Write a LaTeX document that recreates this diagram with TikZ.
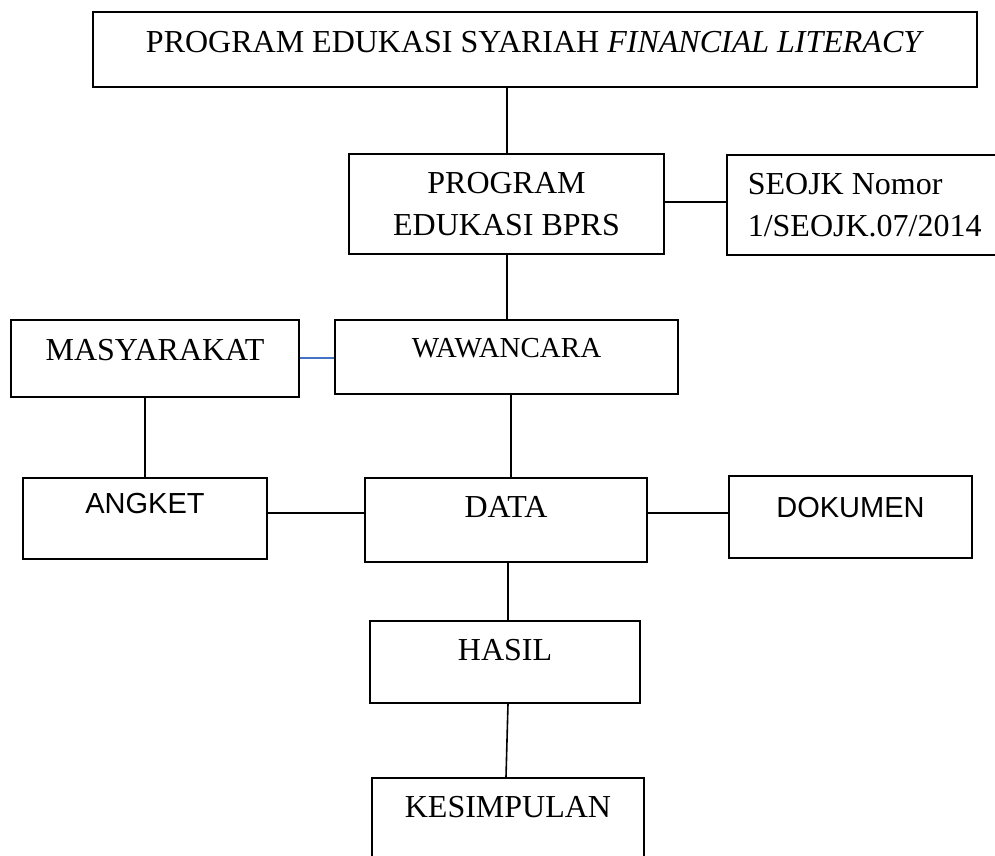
\documentclass[tikz,border=0pt]{standalone}
\usepackage{fontspec}
\setmainfont{Liberation Serif}
\newfontfamily\sansf{Liberation Sans}
\definecolor{lnblue}{RGB}{68,114,196}
\begin{document}
\begin{tikzpicture}[x=1pt,y=-1pt,
  box/.style={draw, line width=1.6pt, inner sep=0pt, anchor=north},
  ser/.style={font=\fontsize{32}{42}\selectfont},
  serw/.style={font=\fontsize{29}{38}\selectfont},
  sans/.style={font=\sansf\fontsize{29}{38}\selectfont},
  con/.style={line width=1.6pt}]
\useasboundingbox (0,0) rectangle (995,855);
% boxes
\node[box, ser, minimum width=884pt, text height=41pt, text depth=34pt] (top) at (535,11)
  {PROGRAM EDUKASI SYARIAH \textit{FINANCIAL LITERACY}};
\node[box, ser, anchor=center, minimum width=315pt, minimum height=100pt, align=center] (bprs) at (506.5,204)
  {PROGRAM\\EDUKASI BPRS};
\node[box, ser, anchor=north west, minimum height=100pt, text width=262pt, inner xsep=21pt, align=flush left] (seojk) at (726,154)
  {SEOJK Nomor\\1/SEOJK.07/2014};
\node[box, ser, minimum width=288pt, text height=41pt, text depth=36pt] (masy) at (155,319) {MASYARAKAT};
\node[box, serw, minimum width=343pt, text height=38pt, text depth=36pt] (waw) at (506.5,319) {WAWANCARA};
\node[box, sans, minimum width=244pt, text height=36pt, text depth=45pt] (angket) at (145,477) {ANGKET};
\node[box, ser, minimum width=282pt, text height=40pt, text depth=44pt] (data) at (506,477) {DATA};
\node[box, sans, minimum width=243pt, text height=42pt, text depth=40pt] (dok) at (850.5,475) {DOKUMEN};
\node[box, ser, minimum width=270pt, text height=40pt, text depth=42pt] (hasil) at (505,620) {HASIL};
\node[box, ser, minimum width=272pt, text height=40pt, text depth=63pt] (kes) at (508,777) {KESIMPULAN};
% helper coordinates
\coordinate (x507) at (507,0);
\coordinate (x511) at (511,0);
\coordinate (x508) at (508,0);
\coordinate (x506) at (506,0);
\coordinate (x145) at (145,0);
\coordinate (y202) at (0,202);
\coordinate (y358) at (0,358);
\coordinate (y513) at (0,513);
% connectors
\draw[con] (top.south -| x507) -- (bprs.north -| x507);
\draw[con] (bprs.east |- y202) -- (seojk.west |- y202);
\draw[con] (bprs.south -| x507) -- (waw.north -| x507);
\draw[con, draw=lnblue] (masy.east |- y358) -- (waw.west |- y358);
\draw[con] (waw.south -| x511) -- (data.north -| x511);
\draw[con] (masy.south -| x145) -- (angket.north -| x145);
\draw[con] (angket.east |- y513) -- (data.west |- y513);
\draw[con] (data.east |- y513) -- (dok.west |- y513);
\draw[con] (data.south -| x508) -- (hasil.north -| x508);
\draw[con] (hasil.south -| x508) -- (kes.north -| x506);
\end{tikzpicture}
\end{document}
